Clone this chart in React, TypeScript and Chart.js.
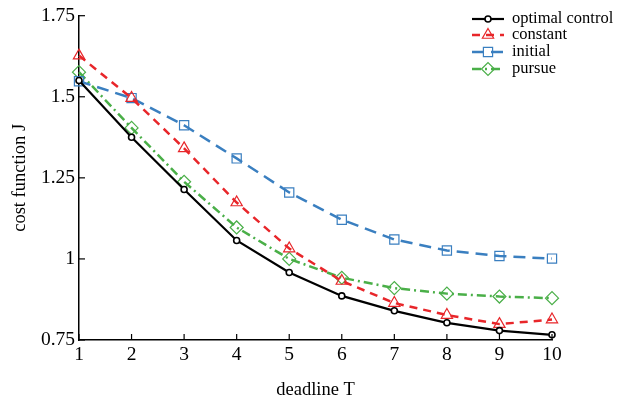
import React, { useEffect, useRef } from "react";
import { Chart, registerables } from "chart.js";
import { drawPoint } from "chart.js/helpers";

Chart.register(...registerables);

const deadlines = [1, 2, 3, 4, 5, 6, 7, 8, 9, 10];
const optimalControl = [1.55, 1.375, 1.214, 1.057, 0.958, 0.886, 0.84, 0.803, 0.779, 0.766];
const constant = [1.627, 1.496, 1.341, 1.174, 1.032, 0.932, 0.864, 0.827, 0.799, 0.813];
const initial = [1.548, 1.496, 1.412, 1.31, 1.205, 1.121, 1.06, 1.026, 1.009, 1.001];
const pursue = [1.576, 1.404, 1.238, 1.097, 1.0, 0.942, 0.91, 0.893, 0.884, 0.879];
const yTickValues = [0.75, 1, 1.25, 1.5, 1.75];
const yTickLabels = ["0.75", "1", "1.25", "1.5", "1.75"];
const seriesNames = ["optimal control", "constant", "initial", "pursue"];

const FONT = "'Liberation Serif', 'Times New Roman', serif";

export default function App() {
  const ref = useRef<HTMLCanvasElement>(null);
  useEffect(() => {
    document.body.style.margin = "0";
    const values = [optimalControl, constant, initial, pursue];
    const styles = [
      { color: "#000000", dash: [] as number[], width: 2.2, point: "circle", radius: 3, fill: "#ffffff", pbw: 1.6 },
      { color: "#e8262a", dash: [8, 6], width: 2.5, point: "triangle", radius: 6.5, fill: "rgba(0,0,0,0)", pbw: 1.2 },
      { color: "#3a7fc0", dash: [12, 7], width: 2.5, point: "rect", radius: 6.5, fill: "rgba(0,0,0,0)", pbw: 1.2 },
      { color: "#4aaf48", dash: [9, 4, 2, 4], width: 2.5, point: "rectRot", radius: 6.5, fill: "rgba(0,0,0,0)", pbw: 1.2 },
    ];
    const datasets = values.map((arr, i) => ({
      label: seriesNames[i],
      data: deadlines.map((x, j) => ({ x, y: arr[j] })),
      borderColor: styles[i].color,
      borderWidth: styles[i].width,
      borderDash: styles[i].dash,
      pointStyle: styles[i].point as any,
      pointRadius: styles[i].radius,
      pointBorderWidth: styles[i].pbw,
      pointBorderColor: styles[i].color,
      pointBackgroundColor: styles[i].fill,
      backgroundColor: styles[i].fill,
      tension: 0,
      clip: false as any,
    }));

    const innerTicks = {
      id: "innerTicks",
      afterDraw(chart: any) {
        const { ctx, chartArea, scales } = chart;
        ctx.save();
        ctx.strokeStyle = "#000";
        ctx.lineWidth = 1.2;
        ctx.setLineDash([]);
        for (const v of yTickValues) {
          const py = scales.y.getPixelForValue(v);
          ctx.beginPath();
          ctx.moveTo(chartArea.left, py);
          ctx.lineTo(chartArea.left + 6, py);
          ctx.stroke();
        }
        for (const v of deadlines) {
          const px = scales.x.getPixelForValue(v);
          ctx.beginPath();
          ctx.moveTo(px, chartArea.bottom);
          ctx.lineTo(px, chartArea.bottom - 6);
          ctx.stroke();
        }
        ctx.restore();
      },
    };

    const legendPlugin = {
      id: "customLegend",
      afterDraw(chart: any) {
        const { ctx } = chart;
        ctx.save();
        const x0 = 472;
        const x1 = 504;
        const xm = 488;
        const tx = 512;
        const rows = [19, 35, 52, 69];
        styles.forEach((s, i) => {
          const y = rows[i];
          ctx.strokeStyle = s.color;
          ctx.lineWidth = s.width;
          ctx.setLineDash(s.dash);
          ctx.beginPath();
          ctx.moveTo(x0, y);
          ctx.lineTo(x1, y);
          ctx.stroke();
          ctx.setLineDash([]);
          ctx.fillStyle = s.fill;
          ctx.lineWidth = s.pbw;
          drawPoint(ctx, { pointStyle: s.point as any, radius: s.radius, rotation: 0, borderWidth: s.pbw } as any, xm, y);
          ctx.fillStyle = "#000";
          ctx.font = `16.5px ${FONT}`;
          ctx.textBaseline = "middle";
          ctx.textAlign = "left";
          ctx.fillText(seriesNames[i], tx, y);
        });
        ctx.restore();
      },
    };

    const chart = new Chart(ref.current!, {
      type: "line",
      data: { datasets: datasets as any },
      options: {
        animation: false,
        responsive: true,
        maintainAspectRatio: false,
        layout: { padding: { top: 14, right: 86, left: 0, bottom: 0 } },
        plugins: { legend: { display: false }, tooltip: { enabled: false } },
        scales: {
          x: {
            type: "linear",
            min: 1,
            max: 10,
            afterBuildTicks: (s: any) => {
              s.ticks = deadlines.map((v) => ({ value: v }));
            },
            afterFit: (s: any) => {
              s.height = 69;
            },
            ticks: { color: "#000", font: { family: FONT, size: 19.5 }, padding: 3, maxRotation: 0, autoSkip: false },
            grid: { display: true, drawOnChartArea: false, drawTicks: false },
            border: { display: true, color: "#000", width: 1.5 },
            title: {
              display: true,
              text: "deadline T",
              color: "#000",
              font: { family: FONT, size: 18.5 },
              padding: { top: 0, bottom: 8 },
            },
          },
          y: {
            type: "linear",
            min: 0.75,
            max: 1.75,
            afterBuildTicks: (s: any) => {
              s.ticks = yTickValues.map((v) => ({ value: v }));
            },
            afterFit: (s: any) => {
              s.width = 79;
            },
            ticks: {
              color: "#000",
              font: { family: FONT, size: 19.5 },
              padding: 4,
              callback: (v: any) => {
                const idx = yTickValues.indexOf(Number(v));
                return idx >= 0 ? yTickLabels[idx] : "";
              },
            },
            grid: { display: true, drawOnChartArea: false, drawTicks: false },
            border: { display: true, color: "#000", width: 1.5 },
            title: {
              display: true,
              text: "cost function J",
              color: "#000",
              font: { family: FONT, size: 18.5 },
              padding: { top: 9, bottom: 0 },
            },
          },
        },
      },
      plugins: [innerTicks, legendPlugin],
    });
    return () => chart.destroy();
  }, []);
  return (
    <div style={{ width: 638, height: 409, position: "relative" }}>
      <canvas ref={ref} />
    </div>
  );
}
